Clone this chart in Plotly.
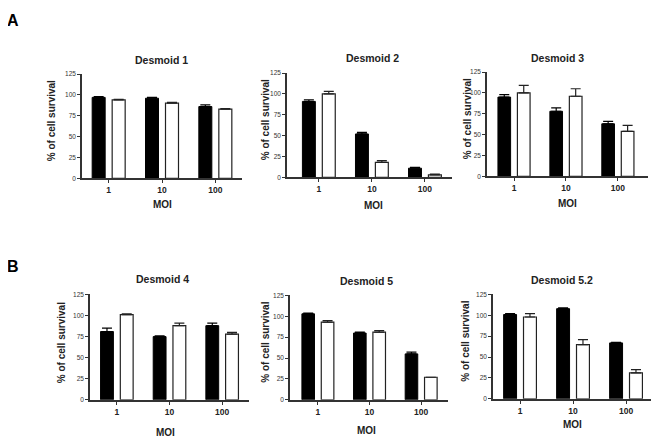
import plotly.graph_objects as go

W, H = 659, 444
OX, OY = 8, 8  # page offset of the plot div (body margin)

moi = ["1", "10", "100"]
panel_titles = ["Desmoid 1", "Desmoid 2", "Desmoid 3", "Desmoid 4", "Desmoid 5", "Desmoid 5.2"]

black_vals = [
    [97, 96, 86],
    [91, 52, 11],
    [95, 78, 63],
    [81, 75, 88],
    [103, 80, 55],
    [101, 108, 67],
]
black_err = [
    [1, 1, 2],
    [2, 2, 1],
    [3, 4, 3],
    [4, 1, 3],
    [1, 1, 2],
    [1, 1, 0.5],
]
white_vals = [
    [94, 90, 83],
    [100, 18, 3],
    [100, 96, 54],
    [101, 88, 78],
    [93, 81, 27],
    [98, 65, 31],
]
white_err = [
    [0.5, 1, 0.5],
    [3, 2, 1],
    [9, 9, 7],
    [1, 3, 2],
    [2, 2, 0],
    [4, 6, 4],
]
y_ticks = [0, 25, 50, 75, 100, 125]

# layout geometry in page pixels: (x0, x1, ytop, ybottom)
boxes = [
    (82, 242, 71, 177),
    (287, 452, 70, 176),
    (487, 648, 69, 175),
    (90, 249, 295, 402),
    (290, 448, 296, 402),
    (493, 652, 295, 401),
]
xranges = [
    [-0.5, 2.5],
    [-0.6, 2.51],
    [-0.52, 2.58],
    [-0.51, 2.51],
    [-0.54, 2.52],
    [-0.51, 2.49],
]
title_pos = [(161, 57), (372, 55), (557, 55), (162, 279), (367, 281), (562, 280)]
ytitle_x = [51, 265, 467, 61, 266, 466]
moi_pos = [(162, 204), (373, 205), (567, 203), (165, 435), (367, 433), (572, 427)]

FONT = "Arial, Liberation Sans, sans-serif"
AX = "#333333"


def px(x):
    return (x - OX) / W


def py(y):
    return 1 - (y - OY) / H


fig = go.Figure()
annotations = []
layout = {}
for i in range(6):
    n = "" if i == 0 else str(i + 1)
    x0, x1, yt, yb = boxes[i]
    xa = dict(
        domain=[px(x0), px(x1)],
        anchor="y" + n,
        type="category",
        range=xranges[i],
        showline=True, linecolor=AX, linewidth=1.5,
        ticks="outside", ticklen=3, tickcolor=AX, tickwidth=1,
        tickfont=dict(family=FONT, size=8.5, color="#222"),
        showgrid=False, zeroline=False,
        tickprefix="<b>", ticksuffix="</b>",
    )
    ya = dict(
        domain=[py(yb), py(yt)],
        anchor="x" + n,
        range=[0, 125],
        tickvals=y_ticks,
        showline=True, linecolor=AX, linewidth=1.5,
        ticks="outside", ticklen=3, tickcolor=AX, tickwidth=1,
        tickfont=dict(family=FONT, size=6.5, color="#333"),
        showgrid=False, zeroline=False,
    )
    layout["xaxis" + n] = xa
    layout["yaxis" + n] = ya

    fig.add_trace(go.Bar(
        x=moi, y=black_vals[i], xaxis="x" + n, yaxis="y" + n,
        marker=dict(color="black", line=dict(color="black", width=1)),
        error_y=dict(type="data", symmetric=False, array=black_err[i],
                     arrayminus=[0, 0, 0], color="black", thickness=1.2, width=5),
        showlegend=False,
    ))
    fig.add_trace(go.Bar(
        x=moi, y=white_vals[i], xaxis="x" + n, yaxis="y" + n,
        marker=dict(color="white", line=dict(color="#222222", width=1.2)),
        error_y=dict(type="data", symmetric=False, array=white_err[i],
                     arrayminus=[0, 0, 0], color="#222222", thickness=1.2, width=5),
        showlegend=False,
    ))

    tx, ty = title_pos[i]
    annotations.append(dict(text="<b>" + panel_titles[i] + "</b>", x=px(tx), y=py(ty),
                            xref="paper", yref="paper", showarrow=False,
                            font=dict(family=FONT, size=10.5, color="#222"),
                            xanchor="center", yanchor="middle"))
    annotations.append(dict(text="<b>% of cell survival</b>", x=px(ytitle_x[i]),
                            y=py((yt + yb) / 2 - 5),
                            xref="paper", yref="paper", showarrow=False, textangle=-90,
                            font=dict(family=FONT, size=10, color="#222"),
                            xanchor="center", yanchor="middle"))
    mx, my = moi_pos[i]
    annotations.append(dict(text="<b>MOI</b>", x=px(mx), y=py(my),
                            xref="paper", yref="paper", showarrow=False,
                            font=dict(family=FONT, size=10, color="#222"),
                            xanchor="center", yanchor="middle"))

annotations.append(dict(text="<b>A</b>", x=px(13), y=py(17), xref="paper", yref="paper",
                        showarrow=False, font=dict(family=FONT, size=16, color="black"),
                        xanchor="center", yanchor="middle"))
annotations.append(dict(text="<b>B</b>", x=px(13), y=py(267), xref="paper", yref="paper",
                        showarrow=False, font=dict(family=FONT, size=16, color="black"),
                        xanchor="center", yanchor="middle"))

fig.update_layout(
    width=W, height=H,
    margin=dict(l=0, r=0, t=0, b=0),
    paper_bgcolor="white", plot_bgcolor="white",
    barmode="group", bargap=0.25, bargroupgap=0.35,
    annotations=annotations,
    **layout,
)

fig.write_html("out.html")
